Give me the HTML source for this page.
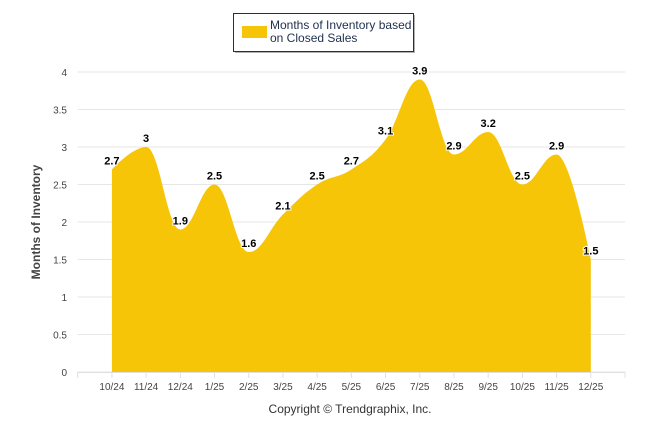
<!DOCTYPE html>
<html><head><meta charset="utf-8"><style>
body{margin:0;background:#fff;}
svg text{font-family:"Liberation Sans",Arial,sans-serif;}
</style></head><body>
<svg id="chart" width="646" height="434" viewBox="0 0 646 434">
<g id="grid"></g>
<path id="area" fill="#F7C508"></path>
<g id="labels"></g>
<g id="xaxis"></g>
<text x="40" y="222" transform="rotate(-90 40 222)" text-anchor="middle" font-size="12" font-weight="bold" fill="#444">Months of Inventory</text>
<text x="350" y="413" text-anchor="middle" font-size="12" fill="#333">Copyright © Trendgraphix, Inc.</text>
<g>
<rect x="235" y="15" width="180" height="38" fill="#666" opacity="0.5"/>
<rect x="233.5" y="13.5" width="180" height="38" fill="#fff" stroke="#1f2f4f" stroke-width="1"/>
<rect x="242" y="26" width="25" height="12" fill="#F7C508"/>
<text x="270" y="29" font-size="12" fill="#1f2f4f">Months of Inventory based</text>
<text x="270" y="42" font-size="12" fill="#1f2f4f">on Closed Sales</text>
</g>
</svg>
<script>
const categories=["10/24","11/24","12/24","1/25","2/25","3/25","4/25","5/25","6/25","7/25","8/25","9/25","10/25","11/25","12/25"];
const values=[2.7,3,1.9,2.5,1.6,2.1,2.5,2.7,3.1,3.9,2.9,3.2,2.5,2.9,1.5];
const yTicks=[0,0.5,1,1.5,2,2.5,3,3.5,4];
const yTickLabels=["0","0.5","1","1.5","2","2.5","3","3.5","4"];
const NS="http://www.w3.org/2000/svg";
const L=77.7,R=625,Y0=372,Y4=72,step=(R-L)/(categories.length+1);
const xs=i=>L+step*(i+1);
const ys=v=>Y0+(Y4-Y0)*v/4;
function mk(t,a,p){const e=document.createElementNS(NS,t);for(const k in a)e.setAttribute(k,a[k]);p.appendChild(e);return e;}
const grid=document.getElementById('grid');
yTicks.forEach((t,i)=>{
 const l=mk('line',{x1:L,x2:R,y1:ys(t),y2:ys(t),stroke:'#e6e6e6','stroke-width':1},grid);
 
 
 const tx=mk('text',{x:67,y:ys(t)+4,'text-anchor':'end','font-size':10,fill:'#444'},grid);
 tx.textContent=yTickLabels[i];
 
 
});
const xa=document.getElementById('xaxis');
mk('line',{x1:L,x2:R,y1:Y0+0.5,y2:Y0+0.5,stroke:'#e0e0e0'},xa);
for(let i=0;i<=categories.length+1;i++){mk('line',{x1:L+step*i,x2:L+step*i,y1:Y0,y2:Y0+6,stroke:'#e0e0e0'},xa);}
categories.forEach((c,i)=>{
 const t=mk('text',{x:xs(i),y:390,'text-anchor':'middle','font-size':10,fill:'#444'},xa);
 t.textContent=c;
 
 
});
const pts=values.map((v,i)=>[xs(i),ys(v)]);
function ctrl(i){
 const sm=1.5,dn=2.5;const p=pts[i],a=pts[i-1],b=pts[i+1];
 if(!a||!b)return null;
 let lx=(sm*p[0]+a[0])/dn,ly=(sm*p[1]+a[1])/dn,rx=(sm*p[0]+b[0])/dn,ry=(sm*p[1]+b[1])/dn;
 if(lx!==rx){const c=((ry-ly)*(rx-p[0]))/(rx-lx)+p[1]-ry;ly+=c;ry+=c;}
 if(ly>a[1]&&ly>p[1]){ly=Math.max(a[1],p[1]);ry=2*p[1]-ly;}else if(ly<a[1]&&ly<p[1]){ly=Math.min(a[1],p[1]);ry=2*p[1]-ly;}
 if(ry>b[1]&&ry>p[1]){ry=Math.max(b[1],p[1]);ly=2*p[1]-ry;}else if(ry<b[1]&&ry<p[1]){ry=Math.min(b[1],p[1]);ly=2*p[1]-ry;}
 return {l:[lx,ly],r:[rx,ry]};
}
const cs=pts.map((_,i)=>ctrl(i));
let d=`M${pts[0][0]},${Y0}L${pts[0][0]},${pts[0][1]}`;
for(let i=1;i<pts.length;i++){
 const c1=cs[i-1]?cs[i-1].r:pts[i-1],c2=cs[i]?cs[i].l:pts[i];
 d+=`C${c1[0]},${c1[1]} ${c2[0]},${c2[1]} ${pts[i][0]},${pts[i][1]}`;
}
d+=`L${pts[pts.length-1][0]},${Y0}Z`;
document.getElementById('area').setAttribute('d',d);
const lg=document.getElementById('labels');
values.forEach((v,i)=>{
 const t=mk('text',{x:xs(i),y:ys(v)-5,'text-anchor':'middle','font-size':11,'font-weight':'bold',fill:'#000',stroke:'#fff','stroke-width':2,'paint-order':'stroke'},lg);
 t.textContent=String(v);
 
 
});
</script>
</body></html>
